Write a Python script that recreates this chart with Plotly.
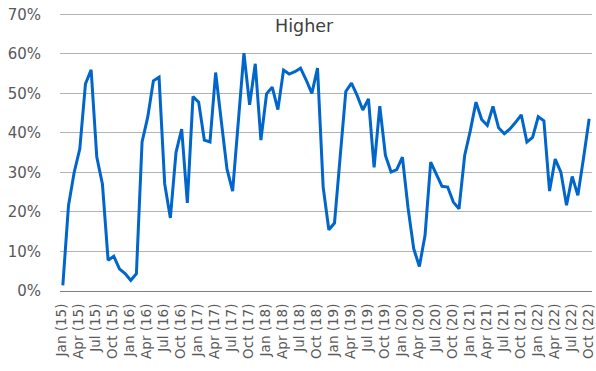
import plotly.graph_objects as go

month_names = ["Jan", "Feb", "Mar", "Apr", "May", "Jun",
               "Jul", "Aug", "Sep", "Oct", "Nov", "Dec"]
years = ["15", "16", "17", "18", "19", "20", "21", "22"]

# Jan (15) .. Oct (22)
months = [f"{m} ({y})" for y in years for m in month_names][:94]

higher = [
    1.4, 21.6, 30.0, 36.0, 52.4, 56.0, 33.9, 27.0, 7.8, 8.8, 5.6, 4.4,
    2.7, 4.4, 37.7, 44.0, 53.2, 54.1, 27.1, 18.5, 35.1, 41.0, 22.3, 49.2,
    47.8, 38.2, 37.7, 55.3, 43.0, 30.9, 25.3, 42.0, 60.2, 47.1, 57.5, 38.2,
    49.9, 51.6, 45.9, 55.9, 54.9, 55.5, 56.4, 53.4, 50.0, 56.4, 26.3, 15.5,
    17.2, 33.9, 50.5, 52.6, 49.5, 45.8, 48.6, 31.3, 46.8, 34.3, 30.1, 30.7,
    33.9, 21.0, 10.7, 6.2, 14.1, 32.6, 29.7, 26.5, 26.3, 22.5, 20.8, 34.3,
    40.6, 47.8, 43.4, 41.9, 46.7, 41.3, 39.8, 41.0, 42.7, 44.6, 37.7, 38.9,
    44.1, 43.1, 25.3, 33.4, 30.1, 21.7, 29.0, 24.2, 33.6, 43.6,
]

tick_labels = months[::3]

fig = go.Figure()
fig.add_trace(go.Scatter(x=months, y=[v / 100 for v in higher], mode="lines",
                         line=dict(color="#0066CC", width=3), showlegend=False))

fig.update_layout(
    width=596, height=371,
    margin=dict(l=60, r=4, t=13, b=80, autoexpand=False),
    paper_bgcolor="white", plot_bgcolor="white",
    font=dict(family="DejaVu Sans", size=15, color="#595959"),
    annotations=[dict(text="Higher", xref="paper", yref="paper",
                      x=0.4605, y=0.953, xanchor="center", yanchor="middle",
                      showarrow=False, font=dict(size=17.5, color="#404040"))],
)
fig.update_xaxes(type="category", range=[-0.5, 93.5],
                 tickmode="array", tickvals=tick_labels, ticktext=tick_labels,
                 tickangle=-90, tickfont=dict(size=13.5), ticklabelshift=-1,
                 showgrid=False, showline=True, linecolor="#7f7f7f", linewidth=1.3,
                 ticks="", ticklabelstandoff=6, automargin=False,
                 ticklabeloverflow="allow")
# range a touch above 70% so the top gridline is not clipped away
fig.update_yaxes(range=[0, 0.7036], tickmode="array",
                 tickvals=[0, 0.1, 0.2, 0.3, 0.4, 0.5, 0.6, 0.7], tickformat=".0%",
                 showgrid=True, gridcolor="#b3b3b3", gridwidth=1.3,
                 zeroline=False, ticks="", ticklabelstandoff=18, automargin=False,
                 ticklabeloverflow="allow")

# drop the default 8px page margin so the chart fills the window
fig.write_html("out.html", config={"displayModeBar": False},
               post_script="document.body.style.margin='0';")
